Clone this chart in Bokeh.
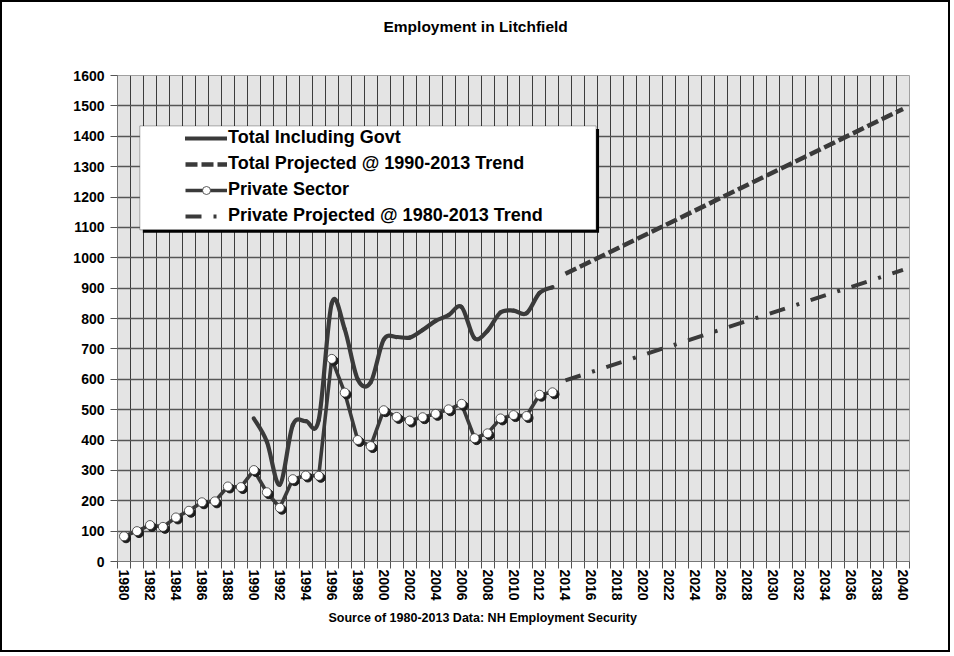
import numpy as np
from bokeh.plotting import figure
from bokeh.models import (Range1d, FixedTicker, Legend, LegendItem, BoxAnnotation, Title)
from bokeh.embed import file_html
from bokeh.resources import INLINE

# ---------------- data ----------------
years_private = list(range(1980, 2014))
private = [83, 100, 120, 114, 145, 167, 195, 198, 247, 245,
           301, 228, 177, 271, 283, 282, 667, 556, 400, 380,
           498, 476, 464, 475, 486, 501, 519, 406, 422, 471,
           482, 479, 549, 557]

years_total = list(range(1990, 2014))
total = [471, 395, 253, 449, 462, 466, 850, 765, 600, 590,
         730, 739, 737, 762, 792, 811, 838, 735, 760, 820,
         826, 817, 884, 903]

proj_years = [2014, 2040]
total_proj = [947, 1490]
private_proj = [596, 960]

y_ticks = list(range(0, 1601, 100))
x_label_years = list(range(1980, 2041, 2))
x_first, x_last = 1980, 2040

title_text = "Employment in Litchfield"
source_text = "Source of 1980-2013 Data:  NH Employment Security"
legend_labels = ["Total Including Govt", "Total Projected @ 1990-2013 Trend",
                 "Private Sector", "Private Projected @ 1980-2013 Trend"]

# ---------------- figure ----------------
FONT = "Liberation Sans"
LINE = "#3a3a3a"

p = figure(width=950, height=652, output_backend="svg", toolbar_location=None,
           title=None,
           x_range=Range1d(x_first - 0.5, x_last + 0.5), y_range=Range1d(0, 1600),
           min_border_left=115, min_border_right=43, min_border_top=73, min_border_bottom=93)
p.background_fill_color = "#e4e4e4"
p.border_fill_color = "white"
p.outline_line_color = "#a0a0a0"
p.outline_line_width = 1
p.styles = {"border": "2px solid black", "box-sizing": "border-box"}

boundaries = [y + 0.5 for y in range(x_first - 1, x_last + 1)]

# axes
p.xaxis.ticker = FixedTicker(ticks=x_label_years, minor_ticks=boundaries)
p.xaxis.major_label_orientation = "vertical"
p.xaxis.major_tick_out = 0
p.xaxis.major_tick_in = 0
p.xaxis.minor_tick_out = 7
p.xaxis.minor_tick_in = 0
p.xaxis.minor_tick_line_color = "#555555"
p.xaxis.axis_line_color = "#777777"
p.xaxis.major_label_standoff = 1
p.xaxis.major_label_text_font = FONT
p.xaxis.major_label_text_font_style = "bold"
p.xaxis.major_label_text_font_size = "14px"
p.xaxis.major_label_text_color = "black"

p.yaxis.ticker = FixedTicker(ticks=y_ticks)
p.yaxis.minor_tick_line_color = None
p.yaxis.major_tick_out = 7
p.yaxis.major_tick_in = 0
p.yaxis.major_tick_line_color = "#555555"
p.yaxis.axis_line_color = "#777777"
p.yaxis.major_label_standoff = 6
p.yaxis.major_label_text_font = FONT
p.yaxis.major_label_text_font_style = "bold"
p.yaxis.major_label_text_font_size = "14px"
p.yaxis.major_label_text_color = "black"

# grids
p.xgrid.ticker = FixedTicker(ticks=boundaries)
p.xgrid.grid_line_color = "#3c3c3c"
p.xgrid.grid_line_width = 1
p.ygrid.ticker = FixedTicker(ticks=y_ticks)
p.ygrid.grid_line_color = "#555555"
p.ygrid.grid_line_width = 1.6

# ---------------- series ----------------
# smoothed total (Catmull-Rom style bezier through the data points)
tx = np.array(years_total, dtype=float)
ty = np.array(total, dtype=float)
xp = np.concatenate([[tx[0]], tx[:-2]]); yp = np.concatenate([[ty[0]], ty[:-2]])
xn = np.concatenate([tx[2:], [tx[-1]]]); yn = np.concatenate([ty[2:], [ty[-1]]])
x0, y0, x1, y1 = tx[:-1], ty[:-1], tx[1:], ty[1:]
r_total = p.bezier(x0=x0, y0=y0, x1=x1, y1=y1,
                   cx0=x0 + (x1 - xp) / 6, cy0=y0 + (y1 - yp) / 6,
                   cx1=x1 - (xn - x0) / 6, cy1=y1 - (yn - y0) / 6,
                   line_color=LINE, line_width=4.2, line_cap="round")

r_tproj = p.line(proj_years, total_proj, line_color=LINE, line_width=4.5,
                 line_dash="12 4", line_cap="butt")
r_pproj = p.line(proj_years, private_proj, line_color=LINE, line_width=4,
                 line_dash="16 12 3 12", line_cap="butt")

r_priv_line = p.line(years_private, private, line_color=LINE, line_width=3.6, line_join="round")
px_ = np.array(years_private, dtype=float)
py_ = np.array(private, dtype=float)
p.scatter(px_ + 0.16, py_ - 6.5, size=9, fill_color="#1e1e1e", line_color="#1e1e1e")
r_priv_pts = p.scatter(years_private, private, size=9, fill_color="white",
                       line_color="#333333", line_width=0.8)

# ---------------- legend ----------------
shadow = BoxAnnotation(left=1981.45, right=2016.59, top=1424, bottom=1082,
                       fill_color="black", fill_alpha=1, line_color=None, level="annotation")
box = BoxAnnotation(left=1981.22, right=2016.36, top=1434, bottom=1092,
                    fill_color="white", fill_alpha=1, line_color="black", line_width=1,
                    level="annotation")
p.add_layout(shadow)
p.add_layout(box)

legend = Legend(items=[
    LegendItem(label=legend_labels[0], renderers=[r_total]),
    LegendItem(label=legend_labels[1], renderers=[r_tproj]),
    LegendItem(label=legend_labels[2], renderers=[r_priv_line, r_priv_pts]),
    LegendItem(label=legend_labels[3], renderers=[r_pproj]),
], location=(68, 335), orientation="vertical")
legend.background_fill_alpha = 0
legend.border_line_color = None
legend.padding = 0
legend.margin = 0
legend.spacing = 5
legend.glyph_width = 42
legend.glyph_height = 20
legend.label_height = 20
legend.label_standoff = 1
legend.label_text_font = FONT
legend.label_text_font_style = "bold"
legend.label_text_font_size = "18px"
legend.label_text_color = "black"
p.add_layout(legend)

# ---------------- texts ----------------
# panels "above" stack outward in the order they are added
spacer = Title(text=" ", align="left", text_font=FONT, text_font_size="21.5px")
main_title = Title(text=title_text, align="left", offset=266, text_font=FONT,
                   text_font_style="bold", text_font_size="15.5px", text_color="black")
p.add_layout(spacer, "above")
p.add_layout(main_title, "above")

src = Title(text=source_text, align="left", offset=211, text_font=FONT,
            text_font_style="bold", text_font_size="12.5px", text_color="black",
            text_line_height=0.4)
p.add_layout(src, "below")

open("out.html", "w").write(file_html(p, INLINE))
